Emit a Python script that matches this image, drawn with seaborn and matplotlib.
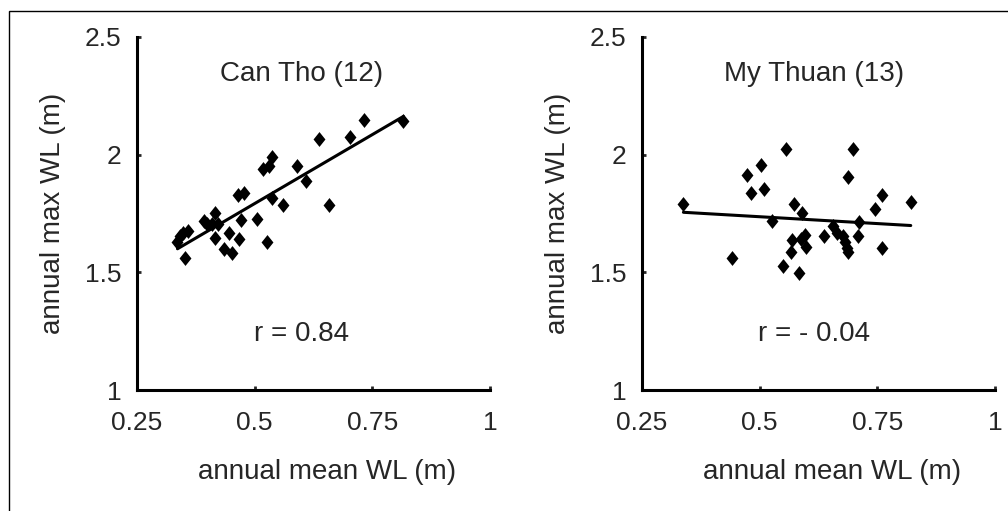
import numpy as np
import pandas as pd
import matplotlib
matplotlib.use("Agg")
import matplotlib.pyplot as plt
from matplotlib.patches import Rectangle
import seaborn as sns

# Can Tho (12): annual mean WL vs annual max WL (m)
can_tho_mean = [0.336, 0.341, 0.348, 0.359, 0.353, 0.392, 0.399, 0.416, 0.409, 0.423,
                0.416, 0.446, 0.435, 0.452, 0.467, 0.471, 0.465, 0.477, 0.506, 0.526,
                0.536, 0.518, 0.531, 0.536, 0.560, 0.591, 0.610, 0.636, 0.657, 0.702,
                0.732, 0.816]
can_tho_max = [1.627, 1.655, 1.669, 1.676, 1.559, 1.718, 1.704, 1.753, 1.704, 1.704,
               1.648, 1.669, 1.599, 1.584, 1.641, 1.721, 1.828, 1.838, 1.725, 1.627,
               1.814, 1.937, 1.951, 1.989, 1.786, 1.951, 1.890, 2.068, 1.786, 2.077,
               2.148, 2.145]

# My Thuan (13)
my_thuan_mean = [0.338, 0.441, 0.474, 0.502, 0.482, 0.510, 0.526, 0.556, 0.549, 0.574,
                 0.568, 0.567, 0.584, 0.591, 0.587, 0.596, 0.598, 0.637, 0.656, 0.664,
                 0.676, 0.681, 0.685, 0.688, 0.687, 0.698, 0.710, 0.708, 0.745, 0.759,
                 0.759, 0.821]
my_thuan_max = [1.789, 1.559, 1.915, 1.955, 1.838, 1.855, 1.718, 2.025, 1.525, 1.789,
                1.637, 1.587, 1.496, 1.753, 1.641, 1.658, 1.608, 1.655, 1.697, 1.669,
                1.655, 1.627, 1.605, 1.587, 1.904, 2.025, 1.714, 1.655, 1.768, 1.828,
                1.605, 1.798]

titles = ["Can Tho (12)", "My Thuan (13)"]
r_labels = ["r = 0.84", "r = - 0.04"]
x_ticks = [0.25, 0.5, 0.75, 1]
x_tick_labels = ["0.25", "0.5", "0.75", "1"]
y_ticks = [1, 1.5, 2, 2.5]
y_tick_labels = ["1", "1.5", "2", "2.5"]

sns.set_style("white")
plt.rcParams["font.family"] = ["Liberation Sans", "DejaVu Sans"]

fig = plt.figure(figsize=(10.08, 5.11), dpi=100)

# marco exterior (solo se ve arriba y a la izquierda)
fig.patches.append(Rectangle((9 / 1008, -0.2), 1.5, 1.2 - 11 / 511,
                             transform=fig.transFigure, fill=False,
                             edgecolor="black", linewidth=1.0))

# rombo algo más alto que ancho
diamond = [(0, -1), (0.8, 0), (0, 1), (-0.8, 0), (0, -1)]

datasets = [
    pd.DataFrame({"mean": can_tho_mean, "max": can_tho_max}),
    pd.DataFrame({"mean": my_thuan_mean, "max": my_thuan_max}),
]
lefts = [137 / 1008, 642 / 1008]
text_x = [0.6005, 0.616]

for i, df in enumerate(datasets):
    ax = fig.add_axes([lefts[i], 121 / 511, 353 / 1008, 353 / 511])
    sns.regplot(data=df, x="mean", y="max", ax=ax, ci=None, color="black",
                marker=diamond,
                scatter_kws={"s": 115, "linewidths": 0, "alpha": 1},
                line_kws={"linewidth": 2.2})
    ax.set_xlim(0.25, 1)
    ax.set_ylim(1, 2.5)
    ax.set_xticks(x_ticks)
    ax.set_xticklabels(x_tick_labels)
    ax.set_yticks(y_ticks)
    ax.set_yticklabels(y_tick_labels)
    ax.tick_params(direction="in", length=3, width=2, labelsize=19,
                   left=True, bottom=True)
    ax.tick_params(axis="x", pad=15)
    ax.tick_params(axis="y", pad=11)
    for s in ["top", "right"]:
        ax.spines[s].set_visible(False)
    for s in ["left", "bottom"]:
        ax.spines[s].set_linewidth(2.2)
        ax.spines[s].set_color("black")
    ax.set_xlabel("annual mean WL (m)", fontsize=20)
    ax.xaxis.set_label_coords(0.538, -0.195)
    ax.set_ylabel("annual max WL (m)", fontsize=20)
    ax.yaxis.set_label_coords(-0.20, 0.5)
    ax.text(text_x[i], 2.343, titles[i], fontsize=20, ha="center", va="center")
    ax.text(text_x[i], 1.237, r_labels[i], fontsize=20, ha="center", va="center")
    ax.patch.set_alpha(0)

fig.savefig("out.png", dpi=100)
